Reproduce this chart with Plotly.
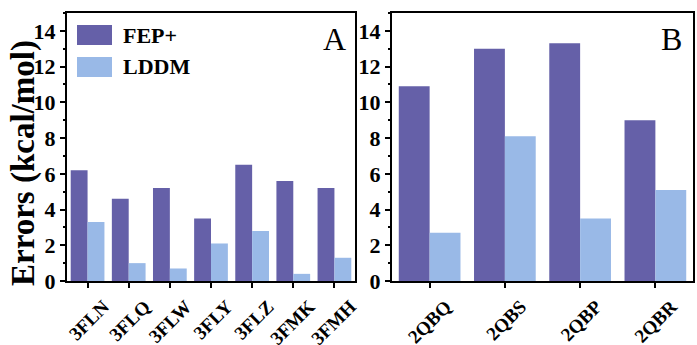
import plotly.graph_objects as go

# ---- data ----
cats_a = ["3FLN", "3FLQ", "3FLW", "3FLY", "3FLZ", "3FMK", "3FMH"]
fep_a = [6.2, 4.6, 5.2, 3.5, 6.5, 5.6, 5.2]
lddm_a = [3.3, 1.0, 0.7, 2.1, 2.8, 0.4, 1.3]

cats_b = ["2QBQ", "2QBS", "2QBP", "2QBR"]
fep_b = [10.9, 13.0, 13.3, 9.0]
lddm_b = [2.7, 8.1, 3.5, 5.1]

series_names = ["FEP+", "LDDM"]
y_ticks = [0, 2, 4, 6, 8, 10, 12, 14]

# ---- style ----
W, H = 697, 345
C_FEP = "#6560A8"
C_LDDM = "#99B9E7"
SERIF = "Liberation Serif"

fig = go.Figure()
fig.add_trace(go.Bar(x=cats_a, y=fep_a, name=series_names[0], marker_color=C_FEP,
                     marker_line_width=0, xaxis="x", yaxis="y", showlegend=False))
fig.add_trace(go.Bar(x=cats_a, y=lddm_a, name=series_names[1], marker_color=C_LDDM,
                     marker_line_width=0, xaxis="x", yaxis="y", showlegend=False))
fig.add_trace(go.Bar(x=cats_b, y=fep_b, name=series_names[0], marker_color=C_FEP,
                     marker_line_width=0, xaxis="x2", yaxis="y2", showlegend=False))
fig.add_trace(go.Bar(x=cats_b, y=lddm_b, name=series_names[1], marker_color=C_LDDM,
                     marker_line_width=0, xaxis="x2", yaxis="y2", showlegend=False))

def px_x(p):
    return p / W

def px_y(p):
    return (H - p) / H

ydom = [px_y(281), px_y(13)]

def bold(s):
    return "<b>" + str(s) + "</b>"

xcommon = dict(
    showline=True, linecolor="black", linewidth=2, mirror=True,
    ticks="outside", ticklen=5, tickwidth=2, tickcolor="black",
    tickangle=-45, showgrid=False, zeroline=False, automargin=False,
    ticklabelshift=16,
    tickfont=dict(family=SERIF, size=19, color="black"),
)
ycommon = dict(
    showline=True, linecolor="black", linewidth=2, mirror=True,
    ticks="outside", ticklen=5, tickwidth=2, tickcolor="black",
    range=[0, 15], tickvals=y_ticks, ticktext=[bold(v) for v in y_ticks],
    showgrid=False, zeroline=False, automargin=False,
    tickfont=dict(family=SERIF, size=22, color="black"),
    minor=dict(ticks="outside", ticklen=2, tickwidth=1.5, tickcolor="black", dtick=1),
    domain=ydom,
)

fig.update_layout(
    width=W, height=H,
    margin=dict(l=0, r=0, t=0, b=0),
    paper_bgcolor="white", plot_bgcolor="white",
    barmode="group", bargap=0.18, bargroupgap=0,
    xaxis=dict(domain=[px_x(67), px_x(355)], anchor="y", range=[-0.5, 6.5],
               tickvals=cats_a, ticktext=[bold(c) for c in cats_a], **xcommon),
    yaxis=dict(anchor="x", **ycommon),
    xaxis2=dict(domain=[px_x(392), px_x(693)], anchor="y2", range=[-0.5, 3.5],
                tickvals=cats_b, ticktext=[bold(c) for c in cats_b], **xcommon),
    yaxis2=dict(anchor="x2", **ycommon),
)

shapes = [
    dict(type="rect", xref="paper", yref="paper", x0=px_x(77), x1=px_x(112),
         y0=px_y(45), y1=px_y(25), fillcolor=C_FEP, line_width=0),
    dict(type="rect", xref="paper", yref="paper", x0=px_x(77), x1=px_x(112),
         y0=px_y(77), y1=px_y(57), fillcolor=C_LDDM, line_width=0),
]
fig.update_layout(shapes=shapes)

ann = [
    dict(text=bold("FEP+"), x=px_x(121), y=px_y(35), xref="paper", yref="paper",
         xanchor="left", yanchor="middle", showarrow=False,
         font=dict(family=SERIF, size=22, color="black")),
    dict(text=bold("LDDM"), x=px_x(121), y=px_y(67), xref="paper", yref="paper",
         xanchor="left", yanchor="middle", showarrow=False,
         font=dict(family=SERIF, size=22, color="black")),
    dict(text="A", x=px_x(334), y=px_y(39), xref="paper", yref="paper",
         xanchor="center", yanchor="middle", showarrow=False,
         font=dict(family=SERIF, size=32, color="black")),
    dict(text="B", x=px_x(671), y=px_y(39), xref="paper", yref="paper",
         xanchor="center", yanchor="middle", showarrow=False,
         font=dict(family=SERIF, size=32, color="black")),
    dict(text=bold("Errors (kcal/mol)"), x=px_x(23), y=px_y(163), xref="paper", yref="paper",
         xanchor="center", yanchor="middle", showarrow=False, textangle=-90,
         font=dict(family=SERIF, size=33, color="black")),
]
fig.update_layout(annotations=ann)

fig.write_html("out.html")
